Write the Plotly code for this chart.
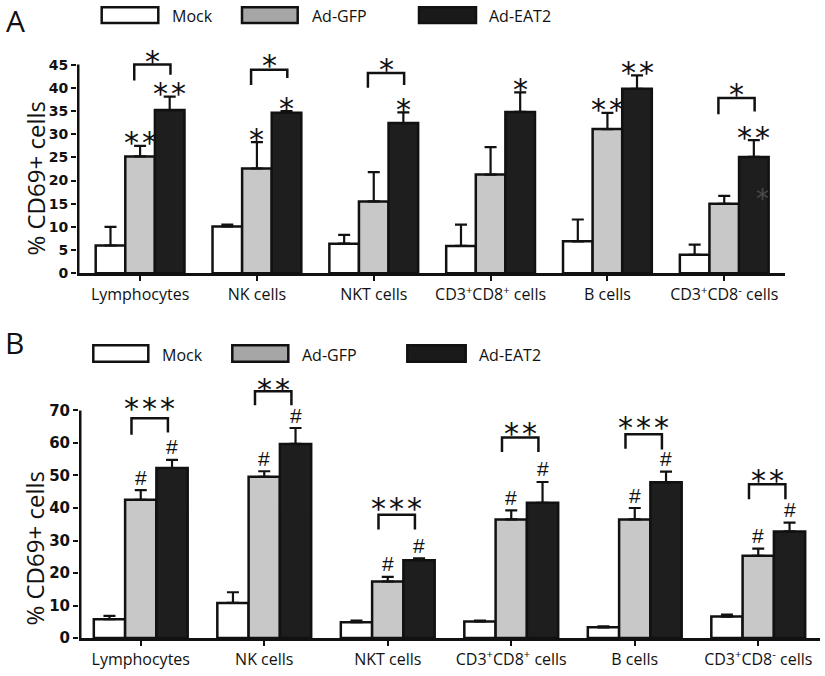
import plotly.graph_objects as go

W, H = 825, 676

categories = ["Lymphocytes", "NK cells", "NKT cells",
              "CD3<sup>+</sup>CD8<sup>+</sup> cells", "B cells",
              "CD3<sup>+</sup>CD8<sup>-</sup> cells"]
series_names = ["Mock", "Ad-GFP", "Ad-EAT2"]

# Panel A values (% CD69+ cells) and upper error
a_mock = [6.0, 10.1, 6.4, 5.9, 6.9, 4.0]
a_mock_err = [4.0, 0.4, 1.9, 4.6, 4.7, 2.2]
a_gfp = [25.2, 22.6, 15.5, 21.3, 31.1, 15.0]
a_gfp_err = [2.3, 5.7, 6.3, 5.9, 3.5, 1.7]
a_eat2 = [35.2, 34.6, 32.4, 34.8, 39.8, 25.1]
a_eat2_err = [2.9, 0.4, 2.3, 4.2, 2.9, 3.6]
a_gfp_sig = ["**", "*", "", "", "**", ""]
a_eat2_sig = ["**", "*", "*", "*", "**", "**"]
# brackets: category index, top, left leg bottom, right leg bottom, label, label y
a_br_cat = [0, 1, 2, 5]
a_br_top = [45.0, 43.9, 43.2, 37.8]
a_br_left = [41.6, 40.6, 40.0, 34.3]
a_br_right = [42.8, 42.1, 40.6, 34.9]
a_br_label = ["*", "*", "*", "*"]
a_br_label_y = [46.8, 45.8, 45.1, 39.6]

# Panel B values
b_mock = [5.8, 10.8, 4.9, 5.1, 3.3, 6.6]
b_mock_err = [1.0, 3.3, 0.5, 0.3, 0.3, 0.6]
b_gfp = [42.5, 49.6, 17.4, 36.5, 36.5, 25.3]
b_gfp_err = [3.0, 1.7, 1.4, 2.8, 3.5, 2.2]
b_eat2 = [52.3, 59.7, 23.9, 41.6, 47.9, 32.8]
b_eat2_err = [2.5, 4.9, 0.6, 6.4, 3.3, 2.7]
b_gfp_sig = ["#", "#", "#", "#", "#", "#"]
b_eat2_sig = ["#", "#", "#", "#", "#", "#"]
b_br_cat = [0, 1, 2, 3, 4, 5]
b_br_top = [67.6, 75.9, 37.9, 61.7, 62.7, 47.3]
b_br_left = [62.5, 71.6, 33.4, 57.2, 58.2, 42.7]
b_br_right = [63.2, 71.6, 33.4, 57.2, 58.0, 42.7]
b_br_label = ["***", "**", "***", "**", "***", "**"]
b_br_label_y = [72.0, 78.1, 41.5, 64.5, 66.3, 50.1]

a_ticks = [0, 5, 10, 15, 20, 25, 30, 35, 40, 45]
b_ticks = [0, 10, 20, 30, 40, 50, 60, 70]

fills = ["#ffffff", "#c8c8c8", "#1e1e1e"]
legend_fills = ["#ffffff", "#a6a6a6", "#1a1a1a"]


def px_x(p):
    return p / W


def px_y(p):
    return (H - p) / H


fig = go.Figure()

BW = 0.76 / 3
offsets = [-BW, 0.0, BW]
xs = list(range(len(categories)))

panels = [
    dict(vals=[(a_mock, a_mock_err), (a_gfp, a_gfp_err), (a_eat2, a_eat2_err)],
         xa="x", ya="y"),
    dict(vals=[(b_mock, b_mock_err), (b_gfp, b_gfp_err), (b_eat2, b_eat2_err)],
         xa="x2", ya="y2"),
]

for p in panels:
    for k, (v, e) in enumerate(p["vals"]):
        fig.add_trace(go.Bar(
            x=xs, y=v, name=series_names[k], xaxis=p["xa"], yaxis=p["ya"],
            marker=dict(color=fills[k], line=dict(color="#111111", width=2.5)),
            error_y=dict(type="data", symmetric=False, array=e,
                         arrayminus=[0] * len(e), color="#111111",
                         thickness=2.2, width=6),
            showlegend=False,
        ))

# geometry of panels (pixels)
A_x0, A_x1, A_y0, A_ppu = 77, 785, 277, 4.70
B_x0, B_x1, B_y0, B_ppu = 79, 820, 646.7, 3.296
A_top = 47.5
B_top = 79
A_range = [-0.54, 5.52]
B_range = [-0.5, 5.5]

fig.update_layout(
    width=W, height=H, margin=dict(l=0, r=0, t=0, b=0),
    paper_bgcolor="white", plot_bgcolor="white",
    barmode="group", bargap=0.24, bargroupgap=0.0,
    xaxis=dict(domain=[px_x(A_x0), px_x(A_x1)], anchor="y",
               range=A_range, tickvals=xs, ticktext=categories,
               showline=True, linecolor="#111111", linewidth=2.5,
               ticks="outside", ticklen=5, tickwidth=2, tickcolor="#111111",
               tickfont=dict(family="Open Sans", size=16, color="#111111"),
               showgrid=False, zeroline=False),
    yaxis=dict(domain=[px_y(A_y0), px_y(A_y0 - A_top * A_ppu)], anchor="x",
               range=[0, A_top], tickvals=a_ticks,
               showline=False, ticks="outside", ticklen=5, tickwidth=2,
               tickcolor="#111111",
               tickfont=dict(family="DejaVu Sans", size=14, color="#111111",
                             weight="bold"),
               showgrid=False, zeroline=False),
    xaxis2=dict(domain=[px_x(B_x0), px_x(B_x1)], anchor="y2",
                range=B_range, tickvals=xs, ticktext=categories,
                showline=True, linecolor="#111111", linewidth=2.5,
                ticks="outside", ticklen=5, tickwidth=2, tickcolor="#111111",
                tickfont=dict(family="Open Sans", size=16, color="#111111"),
                showgrid=False, zeroline=False),
    yaxis2=dict(domain=[px_y(B_y0), px_y(B_y0 - B_top * B_ppu)], anchor="x2",
                range=[0, B_top], tickvals=b_ticks,
                showline=False, ticks="outside", ticklen=5, tickwidth=2,
                tickcolor="#111111",
                tickfont=dict(family="DejaVu Sans", size=15, color="#111111",
                              weight="bold"),
                showgrid=False, zeroline=False),
)

shapes = []
annotations = []

# y axis lines up to last tick (half of the width is clipped at the plot edge)
for xa, ya, top, rng in [("x", "y", a_ticks[-1], A_range), ("x2", "y2", b_ticks[-1], B_range)]:
    shapes.append(dict(type="line", xref=xa, yref=ya,
                       x0=rng[0], x1=rng[0], y0=0, y1=top,
                       line=dict(color="#111111", width=5)))

STAR_FONT = dict(family="DejaVu Sans", size=30, color="#111111")
HASH_FONT = dict(family="Liberation Sans", size=21, color="#111111")


def star_text(s):
    return "\u200a".join(list(s))


# significance above bars
for xa, ya, sigs_list, errs_list, font, shift in [
    ("x", "y", [a_gfp_sig, a_eat2_sig], [(a_gfp, a_gfp_err), (a_eat2, a_eat2_err)], STAR_FONT, 3),
    ("x2", "y2", [b_gfp_sig, b_eat2_sig], [(b_gfp, b_gfp_err), (b_eat2, b_eat2_err)], HASH_FONT, 13),
]:
    for j, (sigs, (v, e)) in enumerate(zip(sigs_list, errs_list)):
        for i, s in enumerate(sigs):
            if not s:
                continue
            annotations.append(dict(
                x=xs[i] + offsets[j + 1], y=v[i] + e[i], xref=xa, yref=ya,
                text=star_text(s) if font is STAR_FONT else s,
                showarrow=False, font=font, yanchor="middle", yshift=shift))

# brackets
for xa, ya, cats, tops, lefts, rights, labels, label_y, lo, ro in [
    ("x", "y", a_br_cat, a_br_top, a_br_left, a_br_right, a_br_label, a_br_label_y, -0.05, 0.26),
    ("x2", "y2", b_br_cat, b_br_top, b_br_left, b_br_right, b_br_label, b_br_label_y, -0.075, 0.22),
]:
    for c, t, l, r, lab, ly in zip(cats, tops, lefts, rights, labels, label_y):
        x0 = xs[c] + lo
        x1 = xs[c] + ro
        shapes.append(dict(type="path", xref=xa, yref=ya,
                           path=f"M {x0},{l} L {x0},{t} L {x1},{t} L {x1},{r}",
                           line=dict(color="#111111", width=2.5)))
        annotations.append(dict(x=(x0 + x1) / 2, y=ly, xref=xa, yref=ya,
                                text=star_text(lab), showarrow=False,
                                font=STAR_FONT, yanchor="middle", yshift=-5))

# faint asterisk inside the last black bar of panel A
annotations.append(dict(x=xs[5] + offsets[2] + 0.07, y=17.0, xref="x", yref="y",
                        text="*", showarrow=False, yanchor="middle", yshift=-5,
                        font=dict(family="DejaVu Sans", size=26, color="#4a4a4a")))

# legends (drawn as boxes + text)
legend_rows = [
    (7.3, 23.3, [(101.7, 158.3, 170), (242, 297.7, 310), (419, 476, 487)]),
    (350, 366.7, [(93.3, 148.3, 160), (232.3, 288.3, 300), (407.3, 465.7, 477)]),
]
for (y0, y1, items) in legend_rows:
    for k, (bx0, bx1, tx) in enumerate(items):
        shapes.append(dict(type="rect", xref="paper", yref="paper",
                           x0=px_x(bx0), x1=px_x(bx1), y0=px_y(y1), y1=px_y(y0),
                           fillcolor=legend_fills[k],
                           line=dict(color="#111111", width=2.5)))
        annotations.append(dict(x=px_x(tx), y=px_y((y0 + y1) / 2 + 1),
                                xref="paper", yref="paper", text=series_names[k],
                                showarrow=False, xanchor="left", yanchor="middle",
                                font=dict(family="Open Sans", size=16, color="#111111")))

# panel letters
for lab, x, y in [("A", 15, 21), ("B", 14, 347)]:
    annotations.append(dict(x=px_x(x), y=px_y(y), xref="paper", yref="paper",
                            text=lab, showarrow=False, xanchor="center", yanchor="middle",
                            font=dict(family="Open Sans", size=30, color="#111111")))

# y axis titles
for x, y in [(36, 181), (35, 556)]:
    annotations.append(dict(x=px_x(x), y=px_y(y), xref="paper", yref="paper",
                            text="% CD69+ cells", textangle=-90, showarrow=False,
                            xanchor="center", yanchor="middle",
                            font=dict(family="Open Sans", size=24, color="#111111")))

fig.update_layout(shapes=shapes, annotations=annotations)
fig.write_html("out.html", config={"displayModeBar": False},
               post_script="document.body.style.margin='0';document.body.style.padding='0';")
